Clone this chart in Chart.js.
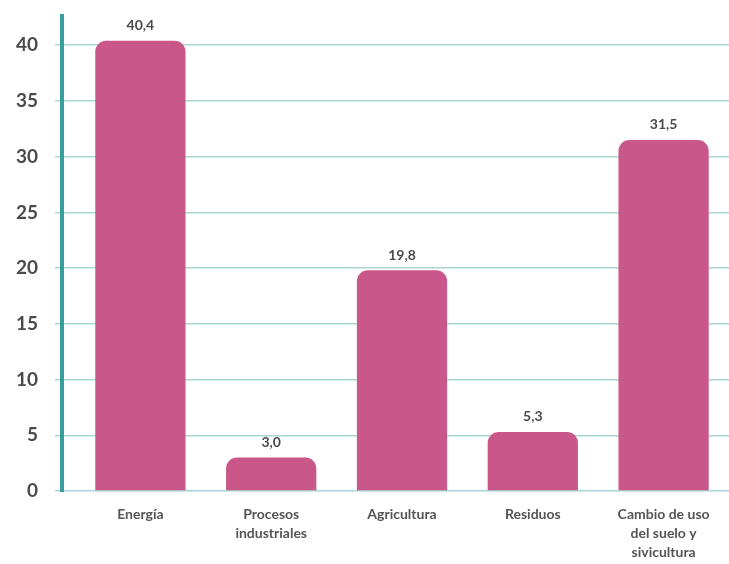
<!DOCTYPE html>
<html>
<head>
<meta charset="utf-8">
<script src="https://cdn.jsdelivr.net/npm/chart.js@4.4.0/dist/chart.umd.min.js"></script>
<style>
  html, body { margin: 0; padding: 0; background: #fff; }
  #wrap { width: 729px; height: 564px; }
</style>
</head>
<body>
<div id="wrap"><canvas id="chart"></canvas></div>
<script>
// Data
const categories = [
    'Energía',
    ['Procesos', 'industriales'],
    'Agricultura',
    'Residuos',
    ['Cambio de uso', 'del suelo y', 'sivicultura']
];
const values = [40.4, 3.0, 19.8, 5.3, 31.5];
const yTicks = [0, 5, 10, 15, 20, 25, 30, 35, 40];

const pink = '#c9578a';
const teal = '#3a9e9e';
const gridTeal = '#a9d6d4';
const textColor = '#4a4a4a';

// Value labels above each bar (comma decimal)
const valueLabels = {
    id: 'valueLabels',
    afterDatasetsDraw(chart) {
        const ctx = chart.ctx;
        const meta = chart.getDatasetMeta(0);
        ctx.save();
        ctx.font = "bold 14px Lato, sans-serif";
        ctx.fillStyle = textColor;
        ctx.textAlign = 'center';
        ctx.textBaseline = 'bottom';
        meta.data.forEach((bar, i) => {
            ctx.fillText(values[i].toFixed(1).replace('.', ','), bar.x, bar.y - 8);
        });
        ctx.restore();
    }
};

// Thick teal vertical axis line, left of the plot area
const axisLine = {
    id: 'axisLine',
    afterDraw(chart) {
        const { ctx, chartArea } = chart;
        ctx.save();
        ctx.strokeStyle = teal;
        ctx.lineWidth = 4;
        ctx.beginPath();
        ctx.moveTo(chartArea.left - 13, chartArea.top);
        ctx.lineTo(chartArea.left - 13, chartArea.bottom + 1);
        ctx.stroke();
        ctx.restore();
    }
};

new Chart(document.getElementById('chart'), {
    type: 'bar',
    data: {
        labels: categories,
        datasets: [{
            data: values,
            backgroundColor: pink,
            borderRadius: { topLeft: 11, topRight: 11 },
            borderSkipped: 'bottom',
            categoryPercentage: 1,
            barPercentage: 0.69
        }]
    },
    options: {
        responsive: true,
        maintainAspectRatio: false,
        animation: false,
        layout: { padding: { top: 14, right: 0, left: 0, bottom: 0 } },
        plugins: {
            legend: { display: false },
            tooltip: { enabled: false }
        },
        scales: {
            x: {
                grid: { display: false, drawTicks: false },
                border: { display: false },
                ticks: {
                    color: '#555',
                    font: { family: 'Lato, sans-serif', size: 14, weight: 'bold', lineHeight: 1.35 },
                    padding: 14,
                    maxRotation: 0,
                    autoSkip: false
                },
                afterFit(scale) {
                    scale.height = 73;
                    scale.paddingLeft = 0;
                    scale.paddingRight = 0;
                }
            },
            y: {
                min: 0,
                max: 42.8,
                afterBuildTicks(scale) {
                    scale.ticks = yTicks.map(v => ({ value: v }));
                },
                grid: { color: gridTeal, lineWidth: 1.5, tickLength: 20 },
                border: { display: false },
                ticks: {
                    color: textColor,
                    font: { family: 'Lato, sans-serif', size: 19, weight: 'bold' },
                    padding: 17
                },
                afterFit(scale) {
                    scale.width = 75;
                    scale.paddingTop = 0;
                    scale.paddingBottom = 0;
                }
            }
        }
    },
    plugins: [valueLabels, axisLine]
});
</script>
</body>
</html>
